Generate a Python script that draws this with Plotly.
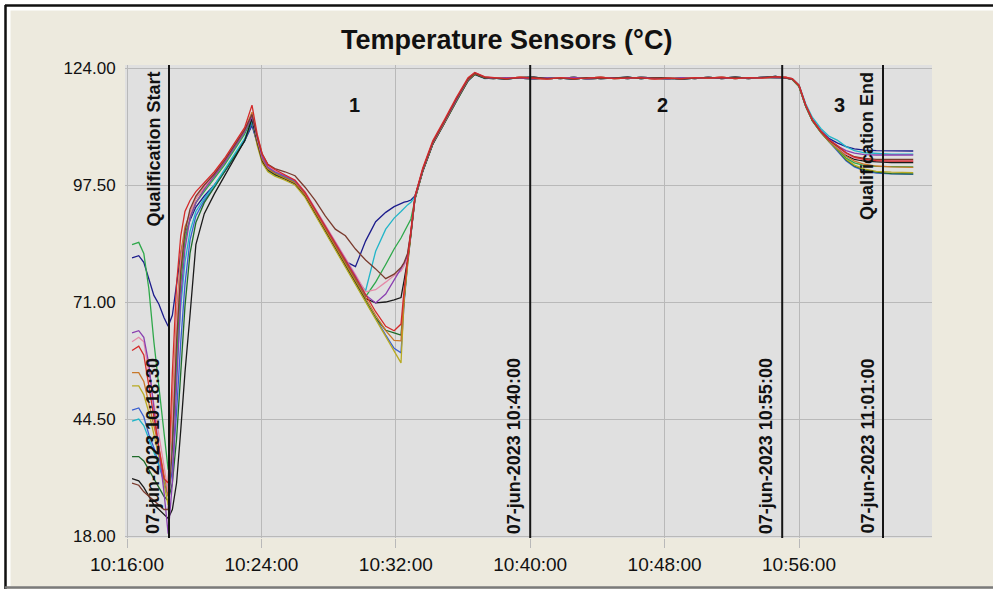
import pandas as pd
import plotly.graph_objects as go

BASE = pd.Timestamp("2023-06-07 10:16:00")

# ---------------- data (minutes after 10:16:00) ----------------
A_T = [0.30, 0.70, 1.00, 1.30, 1.60, 1.90, 2.20, 2.45, 2.70, 2.95, 3.20, 3.45, 3.75,
       4.10, 4.60, 5.20, 5.80, 6.40, 7.00, 7.44]
B_T = [7.75, 8.05, 8.39, 8.80, 9.40, 10.00, 10.60, 11.20, 11.80, 12.40, 13.00, 13.60,
       14.20, 14.80, 15.40, 15.90, 16.31, 16.50, 16.70, 16.90, 17.14, 17.60, 18.20,
       18.90, 19.60, 20.30, 20.70, 21.30]
P_T = [21.8, 22.6, 23.4, 24.2, 25.0, 25.8, 26.6, 27.4, 28.2, 29.0, 29.8, 30.6, 31.4,
       32.2, 33.0, 33.8, 34.6, 35.4, 36.2, 37.0, 37.8, 38.6, 39.2]
C_T = [39.6, 40.0, 40.4, 40.8, 41.3, 41.8, 42.3, 42.8, 43.3, 43.9, 44.6, 45.5, 46.8]

PLAT_A = [121.8, 121.6, 121.9, 121.7, 121.5, 121.8, 121.6, 121.7, 121.9, 121.6, 121.7, 121.8,
          121.5, 121.7, 121.6, 121.8, 121.7, 121.9, 121.6, 121.8, 121.7, 122.0, 121.9]
PLAT_B = [121.6, 121.8, 121.7, 121.5, 121.8, 121.6, 121.9, 121.5, 121.7, 121.8, 121.6, 121.9,
          121.7, 121.5, 121.8, 121.6, 121.9, 121.6, 121.8, 121.6, 121.9, 121.8, 121.7]
PLAT_C = [121.7, 121.5, 121.8, 121.9, 121.6, 121.7, 121.5, 121.8, 121.6, 121.7, 121.9, 121.6,
          121.8, 121.7, 121.5, 121.7, 121.8, 121.7, 121.9, 121.7, 121.8, 122.1, 121.8]

SENSOR_NAMES = ["navy", "blue", "dkgreen", "olive", "cyan", "green", "black", "orange",
                "pink", "purple", "brown", "red"]
SENSOR_COLORS = ["#1c1c8c", "#3a5fd0", "#1f6b2a", "#b8aa22", "#22b5c8", "#2ea84a",
                 "#1a1a1a", "#c8782a", "#e58aa8", "#8a3fb0", "#7a3b2e", "#d42a2a"]

A_VALS = {
    "red":     [60, 61, 59, 52, 44, 37, 31, 30, 55, 75, 86, 91.5, 94, 96, 98, 100.5, 103.5, 107, 110.5, 115.6],
    "brown":   [30, 29.5, 28, 27, 26, 25, 24, 24, 38, 62, 78, 87, 92, 95, 97.5, 100, 103, 106.5, 110, 113.5],
    "navy":    [81, 81.5, 80, 76, 72.5, 70.5, 67.5, 65.5, 68, 75, 82, 86.5, 89.5, 92.5, 95, 97.5, 100.5, 104, 107.5, 111],
    "blue":    [46.5, 47, 45, 41, 38, 34, 30, 27, 33, 46, 62, 75, 85, 90.5, 94, 97, 100.5, 104, 107.5, 111.5],
    "green":   [84, 84.5, 82, 74, 62, 52, 42, 33, 40, 58, 75, 85, 90, 93.5, 96, 99, 102, 105.5, 109, 112.5],
    "dkgreen": [36, 36, 35, 33, 31, 29, 27, 26, 30, 40, 55, 70, 82, 89, 93.5, 97, 100.5, 104, 107.5, 112],
    "cyan":    [44, 44.5, 43, 40, 37, 34, 31, 29, 38, 55, 70, 80, 87, 91.5, 94.5, 97.5, 101, 104.5, 108, 112],
    "purple":  [64, 64.5, 63, 57, 47, 38, 28, 18.5, 30, 52, 72, 83, 90, 93.5, 96.5, 99.5, 102.5, 106, 109.5, 113],
    "pink":    [62, 63, 62, 55, 48, 40, 33, 28, 45, 66, 80, 87, 91, 94.5, 97, 100, 103, 106.5, 110, 113.5],
    "black":   [31, 30.5, 29, 27, 25, 24, 23, 22, 24, 30, 42, 55, 68, 84, 91, 95.5, 99.5, 103.5, 107.5, 112.5],
    "olive":   [52, 52, 50, 46, 41, 36, 30, 25, 42, 62, 78, 85, 90, 93.5, 96.5, 99.5, 102.5, 106, 109.5, 112.5],
    "orange":  [55, 55, 53, 48, 43, 38, 32, 27, 48, 68, 82, 88, 91, 94.5, 97, 100, 103, 106.5, 110, 114],
}

B_VALS = {
    "red":     [109, 104.5, 102, 101, 99.8, 98.6, 95.8, 92, 88.2, 84.3, 80.4, 76.6, 72.7, 68.8, 65.5, 64.5, 66, 74, 81, 87.5, 95, 101.3, 107.5, 112.3, 117.3, 121.8, 123.0, 122.0],
    "brown":   [108.5, 104.5, 102.2, 101.2, 100.5, 99.6, 97, 94, 90.5, 87.5, 86, 83, 80.5, 78.5, 76.3, 77.3, 78.8, 80, 82, 87, 94.8, 101, 107.2, 112, 117, 121.5, 122.8, 121.9],
    "navy":    [107, 103, 101, 100, 99, 98, 95.2, 91.5, 87.6, 83.8, 80.2, 79.0, 84.8, 89.2, 91.3, 92.6, 93.4, 93.6, 93.8, 94.1, 95, 100.6, 106.8, 111.6, 116.6, 121.2, 122.6, 121.7],
    "blue":    [106.8, 102.7, 100.7, 99.7, 98.8, 97.7, 95, 91, 87, 83, 79, 75.2, 71.2, 67.3, 63.5, 60.5, 59.5, 71, 79.5, 86, 94.3, 100.5, 106.7, 111.5, 116.5, 121, 122.5, 121.6],
    "green":   [107.5, 103.2, 101.2, 100.2, 99.2, 98.1, 95.4, 91.6, 87.8, 84, 80, 76.2, 72.2, 75.5, 79.5, 83, 85.5, 87, 88.5, 89.8, 94.2, 100.6, 106.8, 111.6, 116.6, 121.2, 122.6, 121.7],
    "dkgreen": [107, 102.8, 100.8, 99.8, 98.9, 97.8, 95, 91, 87.1, 83.2, 79.2, 75.3, 71.3, 67.4, 64.6, 64.0, 63.5, 71.5, 80, 86.3, 94.5, 100.7, 106.9, 111.7, 116.7, 121.2, 122.6, 121.7],
    "cyan":    [107.8, 103.5, 101.4, 100.4, 99.4, 98.3, 95.6, 91.8, 88, 84.2, 80.3, 76.5, 73.5, 82.5, 87.5, 90, 91.5, 92.3, 93, 93.6, 94.8, 100.7, 106.9, 111.7, 116.7, 121.3, 122.7, 121.8],
    "purple":  [108, 103.8, 101.5, 100.5, 99.5, 98.4, 95.8, 92, 88.3, 84.5, 80.6, 76.8, 72.6, 70.8, 72.8, 76, 78.5, 79.8, 81.5, 86.8, 94.6, 100.9, 107.1, 111.9, 116.9, 121.5, 122.9, 121.9],
    "pink":    [108.2, 104, 101.7, 100.7, 99.7, 98.6, 96, 92.3, 88.6, 84.8, 81, 77.2, 73.3, 73.8, 75.5, 77, 78, 79.2, 81, 87, 94.7, 101, 107.2, 112, 117, 121.6, 122.9, 122.0],
    "black":   [107.2, 103, 101, 100, 99, 97.9, 95.2, 91.3, 87.4, 83.5, 79.6, 75.7, 71.8, 70.8, 71.0, 71.5, 72.0, 76, 80.5, 86.5, 94.4, 100.6, 106.8, 111.6, 116.6, 121.2, 122.6, 121.7],
    "olive":   [106.5, 102.5, 100.5, 99.5, 98.6, 97.5, 94.7, 90.7, 86.8, 82.9, 78.9, 75.0, 71.0, 67.1, 63.2, 59.9, 57.2, 72, 80, 86.5, 94.3, 100.6, 106.8, 111.6, 116.6, 121.2, 122.6, 121.7],
    "orange":  [107.6, 103.3, 101.1, 100.1, 99.1, 98, 95.3, 91.4, 87.5, 83.6, 79.7, 75.8, 71.8, 68, 64.5, 62.3, 62.2, 72.2, 80.2, 86.6, 94.4, 100.7, 106.9, 111.7, 116.7, 121.3, 122.7, 121.8],
}

P_ASSIGN = {"red": PLAT_A, "brown": PLAT_C, "navy": PLAT_B, "blue": PLAT_C, "green": PLAT_B,
            "dkgreen": PLAT_A, "cyan": PLAT_C, "purple": PLAT_B, "pink": PLAT_A, "black": PLAT_C,
            "olive": PLAT_B, "orange": PLAT_A}

C_VALS = {
    "red":     [121.6, 120.1, 115.6, 112.3, 109.7, 107.7, 106.4, 104.8, 103.8, 103.3, 103.0, 102.9, 102.9],
    "brown":   [121.5, 120.0, 115.5, 112.2, 109.6, 107.6, 106.2, 104.8, 103.9, 103.5, 103.3, 103.3, 103.3],
    "navy":    [121.5, 119.9, 115.5, 112.3, 109.8, 108.0, 107.0, 106.2, 105.7, 105.4, 105.3, 105.2, 105.2],
    "blue":    [121.4, 119.8, 115.3, 112.0, 109.4, 107.3, 105.3, 103.0, 101.6, 100.7, 100.2, 100.0, 99.9],
    "green":   [121.5, 119.9, 115.4, 112.1, 109.5, 107.4, 105.6, 103.6, 102.5, 101.9, 101.7, 101.6, 101.6],
    "dkgreen": [121.4, 119.8, 115.3, 112.0, 109.4, 107.3, 105.4, 103.2, 101.8, 100.9, 100.4, 100.1, 100.0],
    "cyan":    [121.6, 120.2, 115.9, 112.8, 110.3, 108.5, 107.6, 106.2, 105.3, 104.8, 104.6, 104.5, 104.5],
    "purple":  [121.5, 120.0, 115.5, 112.3, 109.7, 107.8, 106.3, 105.3, 104.7, 104.4, 104.3, 104.3, 104.3],
    "pink":    [121.6, 120.1, 115.6, 112.3, 109.7, 107.6, 106.0, 104.5, 103.6, 103.2, 103.0, 103.0, 103.0],
    "black":   [121.5, 120.0, 115.5, 112.2, 109.6, 107.5, 106.0, 104.2, 103.3, 102.9, 102.7, 102.6, 102.6],
    "olive":   [121.4, 119.8, 115.3, 112.0, 109.4, 107.3, 105.5, 103.4, 102.0, 101.1, 100.6, 100.4, 100.3],
    "orange":  [121.5, 119.9, 115.4, 112.1, 109.5, 107.4, 105.8, 104.0, 102.9, 102.2, 101.8, 101.6, 101.5],
}

Y_TICKS = [18.0, 44.5, 71.0, 97.5, 124.0]
Y_TICK_TEXT = ["18.00", "44.50", "71.00", "97.50", "124.00"]
X_TICK_MIN = [0, 8, 16, 24, 32, 40]
X_TICK_TEXT = ["10:16:00", "10:24:00", "10:32:00", "10:40:00", "10:48:00", "10:56:00"]

EVENT_MIN = [2.5, 24.0, 39.0, 45.0]
EVENT_TEXT = ["07-jun-2023 10:18:30", "07-jun-2023 10:40:00",
              "07-jun-2023 10:55:00", "07-jun-2023 11:01:00"]
PHASE_MIN = [13.57, 31.9, 42.44]
PHASE_TEXT = ["1", "2", "3"]
PHASE_Y = 115.6

TITLE = "Temperature Sensors (°C)"

# ---------------- figure ----------------
def tm(mins):
    return [BASE + pd.Timedelta(minutes=m) for m in mins]

W, H = 993, 601
L, R, T, B = 125, 932, 65, 538


def pxx(p):
    return (p - L) / (R - L)


def pxy(p):
    return (B - p) / (B - T)


BEIGE = "#EDEADE"
PLOTBG = "#E0E0E0"
GRID = "#B9B9B9"
FONT = "Liberation Sans, Arial, sans-serif"

fig = go.Figure()
all_t = A_T + B_T + P_T + C_T
for name, col in zip(SENSOR_NAMES, SENSOR_COLORS):
    vals = A_VALS[name] + B_VALS[name] + P_ASSIGN[name] + C_VALS[name]
    fig.add_trace(go.Scatter(x=tm(all_t), y=vals, mode="lines", name=name,
                             line=dict(color=col, width=1.3), hoverinfo="skip"))

shapes = []
# event lines
for m in EVENT_MIN:
    t = BASE + pd.Timedelta(minutes=m)
    shapes.append(dict(type="line", xref="x", yref="paper", x0=t, x1=t, y0=0, y1=1,
                       line=dict(color="#151515", width=2), layer="above"))
# frame (white outside, black border)
shapes += [
    dict(type="rect", xref="paper", yref="paper", x0=pxx(-5), x1=pxx(1000), y0=pxy(589), y1=pxy(610),
         fillcolor="white", line=dict(width=0), layer="below"),
    dict(type="rect", xref="paper", yref="paper", x0=pxx(-5), x1=pxx(5), y0=pxy(610), y1=pxy(-5),
         fillcolor="white", line=dict(width=0), layer="below"),
    dict(type="rect", xref="paper", yref="paper", x0=pxx(-5), x1=pxx(1000), y0=pxy(5), y1=pxy(-5),
         fillcolor="white", line=dict(width=0), layer="below"),
    dict(type="line", xref="paper", yref="paper", x0=pxx(6), x1=pxx(1000), y0=pxy(8.5), y1=pxy(8.5),
         line=dict(color="white", width=4), layer="below"),
    dict(type="line", xref="paper", yref="paper", x0=pxx(8.5), x1=pxx(8.5), y0=pxy(6), y1=pxy(586),
         line=dict(color="white", width=4), layer="below"),
    dict(type="line", xref="paper", yref="paper", x0=pxx(5), x1=pxx(1000), y0=pxy(5.5), y1=pxy(5.5),
         line=dict(color="#111111", width=2.5), layer="below"),
    dict(type="line", xref="paper", yref="paper", x0=pxx(5.5), x1=pxx(5.5), y0=pxy(5), y1=pxy(589),
         line=dict(color="#111111", width=2.5), layer="below"),
    dict(type="line", xref="paper", yref="paper", x0=pxx(5), x1=pxx(1000), y0=pxy(587.5), y1=pxy(587.5),
         line=dict(color="#7a7a7a", width=2.5), layer="below"),
]

ann = []
ann.append(dict(text="<b>" + TITLE + "</b>", xref="paper", yref="paper", x=pxx(506), y=pxy(40),
                xanchor="center", yanchor="middle", showarrow=False,
                font=dict(family=FONT, size=27, color="#111")))
for m, txt in zip(PHASE_MIN, PHASE_TEXT):
    ann.append(dict(text="<b>" + txt + "</b>", x=BASE + pd.Timedelta(minutes=m), y=PHASE_Y,
                    xref="x", yref="y", showarrow=False, xanchor="center", yanchor="middle",
                    font=dict(family=FONT, size=20, color="#111")))
for m, txt in zip(EVENT_MIN, EVENT_TEXT):
    ann.append(dict(text="<b>" + txt + "</b>", x=BASE + pd.Timedelta(minutes=m), y=0,
                    xref="x", yref="paper", textangle=-90, showarrow=False,
                    xanchor="right", yanchor="bottom", xshift=-4, yshift=2,
                    font=dict(family=FONT, size=18, color="#111")))
for m, txt in [(EVENT_MIN[0], "Qualification Start"), (EVENT_MIN[3], "Qualification End")]:
    ann.append(dict(text="<b>" + txt + "</b>", x=BASE + pd.Timedelta(minutes=m), y=1,
                    xref="x", yref="paper", textangle=-90, showarrow=False,
                    xanchor="right", yanchor="top", xshift=-4, yshift=-5,
                    font=dict(family=FONT, size=18, color="#111")))

x0 = BASE + pd.Timedelta(minutes=-(127 - L) / 16.8)
x1 = BASE + pd.Timedelta(minutes=(R - 127) / 16.8)

fig.update_layout(
    width=W, height=H,
    margin=dict(l=L, r=W - R, t=T, b=H - B, pad=0),
    paper_bgcolor=BEIGE, plot_bgcolor=PLOTBG,
    showlegend=False,
    font=dict(family=FONT, size=17, color="#111"),
    shapes=shapes, annotations=ann,
    xaxis=dict(type="date", range=[x0, x1], tickvals=tm(X_TICK_MIN), ticktext=X_TICK_TEXT,
               showgrid=True, gridcolor=GRID, gridwidth=1, ticks="outside", ticklen=9,
               tickcolor=GRID, zeroline=False, showline=False,
               tickfont=dict(family=FONT, size=19, color="#111")),
    yaxis=dict(range=[17.55, 124.68], tickvals=Y_TICKS, ticktext=Y_TICK_TEXT,
               showgrid=True, gridcolor=GRID, gridwidth=1, ticks="outside", ticklen=5,
               tickcolor="rgba(0,0,0,0)", zeroline=False, showline=False,
               tickfont=dict(family=FONT, size=17, color="#111")),
)

fig.write_html("out.html")
